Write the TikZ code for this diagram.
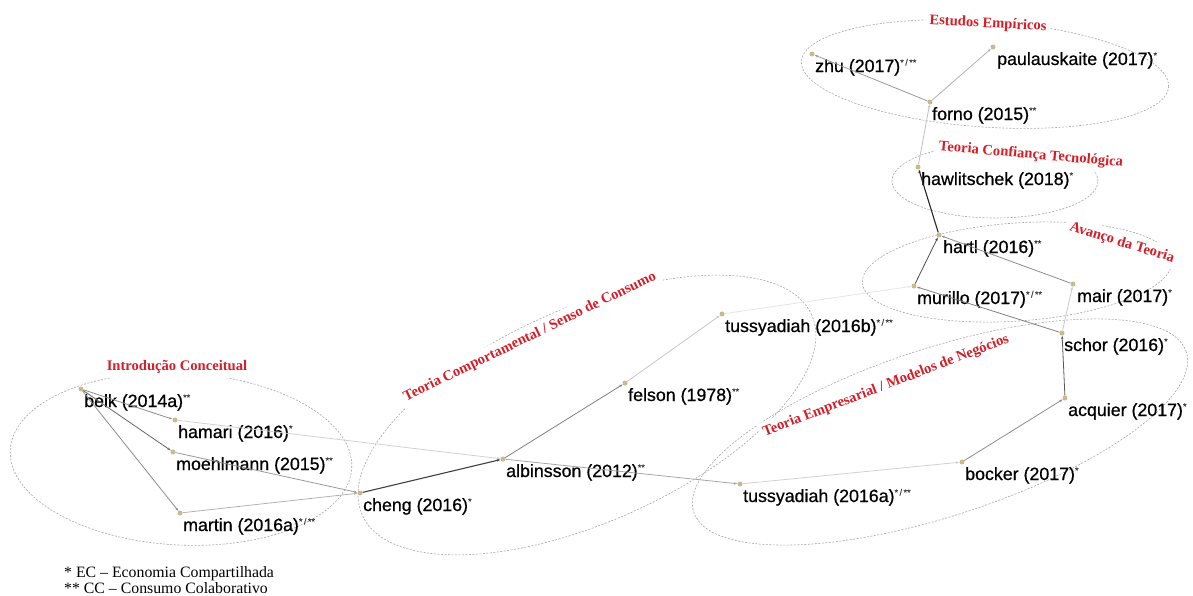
\documentclass[tikz,border=0pt]{standalone}
\usepackage{fontspec}
\setmainfont{Liberation Serif}
\setsansfont{Liberation Sans}
\newfontfamily\autorfont{Liberation Sans}[FakeBold=0.7]
\usetikzlibrary{arrows.meta,positioning}

\definecolor{vermelho}{RGB}{212,30,40}
\definecolor{areia}{RGB}{200,186,140}
\newcommand\marca[1]{\raisebox{6.5pt}{\color{black!75}\fontsize{9}{9}\selectfont#1}}

\begin{document}
\begin{tikzpicture}[x = 1pt, y = -1pt,
	ponto/.style = {circle, fill = areia, inner sep = 0pt, minimum size = 5pt},
	autor/.style = {anchor = base west, inner sep = 0pt, text = black, font = \autorfont\fontsize{17.8}{20}\selectfont},
	tema/.style = {text = vermelho, fill = white, inner sep = 4pt, font = \bfseries\fontsize{14.6}{16}\selectfont},
	grupo/.style = {draw = black!35, dash pattern = on 2pt off 1.5pt, line width = 0.6pt},
	lig/.style = {-{Stealth[length = 3.5pt, width = 2.4pt]}, line width = 0.8pt},
	legenda/.style = {anchor = base west, inner sep = 0pt, font = \fontsize{15.8}{17}\selectfont}]
	\useasboundingbox (0,0) rectangle (1193,595);
	% grupos
	\draw[grupo, rotate around = {-3:(181,459)}] (181,459) ellipse [x radius = 171pt, y radius = 86pt];
	\draw[grupo, rotate around = {24:(587,415)}] (587,415) ellipse [x radius = 246pt, y radius = 107pt];
	\draw[grupo, rotate around = {18:(940,432)}] (940,432) ellipse [x radius = 259pt, y radius = 84pt];
	\draw[grupo, rotate around = {4:(1017,272)}] (1017,272) ellipse [x radius = 155pt, y radius = 49pt];
	\draw[grupo] (995,181) ellipse [x radius = 103pt, y radius = 37pt];
	\draw[grupo, rotate around = {-4:(985,74)}] (985,74) ellipse [x radius = 184pt, y radius = 53pt];
	\node[tema] (intro) at (177,367) {Introdução Conceitual};
	\node[tema, rotate = 26] (comport) at (530,337) {Teoria Comportamental / Senso de Consumo};
	\node[tema, rotate = 21] (empres) at (886,386) {Teoria Empresarial / Modelos de Negócios};
	\node[tema, rotate = -17] (avanco) at (1122,243) {Avanço da Teoria};
	\node[tema, rotate = -5] (confianca) at (1031,155) {Teoria Confiança Tecnológica};
	\node[tema, rotate = -3] (estudos) at (988,24) {Estudos Empíricos};
	% autores
	\node[ponto] (belk) at (81,389) {};
	\node[ponto] (hamari) at (175,420) {};
	\node[ponto] (moehlmann) at (173,452) {};
	\node[ponto] (martin) at (180,513) {};
	\node[ponto] (cheng) at (360,493) {};
	\node[ponto] (albinsson) at (503,459) {};
	\node[ponto] (felson) at (625,383) {};
	\node[ponto] (tussyB) at (722,314) {};
	\node[ponto] (tussyA) at (740,484) {};
	\node[ponto] (bocker) at (962,462) {};
	\node[ponto] (acquier) at (1065,398) {};
	\node[ponto] (schor) at (1062,333) {};
	\node[ponto] (mair) at (1073,284) {};
	\node[ponto] (murillo) at (914,286) {};
	\node[ponto] (hartl) at (939,235) {};
	\node[ponto] (hawlitschek) at (918,167) {};
	\node[ponto] (forno) at (930,102) {};
	\node[ponto] (zhu) at (812,54) {};
	\node[ponto] (paulauskaite) at (993,47) {};
	\node[below right = 18pt and 3pt of belk.center, autor] (belkT) {belk (2014a)\marca{**}};
	\node[below right = 18pt and 3pt of hamari.center, autor] (hamariT) {hamari (2016)\marca{*}};
	\node[below right = 18pt and 3pt of moehlmann.center, autor] (moehlmannT) {moehlmann (2015)\marca{**}};
	\node[below right = 18pt and 3pt of martin.center, autor] (martinT) {martin (2016a)\marca{*\,/\,**}};
	\node[below right = 18pt and 3pt of cheng.center, autor] (chengT) {cheng (2016)\marca{*}};
	\node[below right = 18pt and 3pt of albinsson.center, autor] (albinssonT) {albinsson (2012)\marca{**}};
	\node[below right = 18pt and 3pt of felson.center, autor] (felsonT) {felson (1978)\marca{**}};
	\node[below right = 18pt and 3pt of tussyB.center, autor] (tussyBT) {tussyadiah (2016b)\marca{*\,/\,**}};
	\node[below right = 18pt and 3pt of tussyA.center, autor] (tussyAT) {tussyadiah (2016a)\marca{*\,/\,**}};
	\node[below right = 18pt and 3pt of bocker.center, autor] (bockerT) {bocker (2017)\marca{*}};
	\node[below right = 18pt and 3pt of acquier.center, autor] (acquierT) {acquier (2017)\marca{*}};
	\node[below right = 18pt and 2pt of schor.center, autor] (schorT) {schor (2016)\marca{*}};
	\node[below right = 18pt and 4pt of mair.center, autor] (mairT) {mair (2017)\marca{*}};
	\node[below right = 18pt and 3pt of murillo.center, autor] (murilloT) {murillo (2017)\marca{*\,/\,**}};
	\node[below right = 18pt and 4pt of hartl.center, autor] (hartlT) {hartl (2016)\marca{**}};
	\node[below right = 18pt and 3pt of hawlitschek.center, autor] (hawlitschekT) {hawlitschek (2018)\marca{*}};
	\node[below right = 18pt and 2pt of forno.center, autor] (fornoT) {forno (2015)\marca{**}};
	\node[below right = 18pt and 3pt of zhu.center, autor] (zhuT) {zhu (2017)\marca{*\,/\,**}};
	\node[below right = 18pt and 4pt of paulauskaite.center, autor] (paulauskaiteT) {paulauskaite (2017)\marca{*}};
	% ligacoes
	\draw[lig, draw = black!45] (belk) -- (hamari);
	\draw[lig, draw = black!60] (belk) -- (moehlmann);
	\draw[lig, draw = black!45] (belk) -- (martin);
	\draw[lig, draw = black!18] (hamari) -- (albinsson);
	\draw[lig, draw = black!40] (moehlmann) -- (cheng);
	\draw[lig, draw = black!30] (martin) -- (cheng);
	\draw[lig, draw = black!75, line width = 1.1pt] (cheng) -- (albinsson);
	\draw[lig, draw = black!50] (albinsson) -- (felson);
	\draw[lig, draw = black!22] (felson) -- (tussyB);
	\draw[lig, draw = black!10] (tussyB) -- (murillo);
	\draw[lig, draw = black!35] (albinsson) -- (tussyA);
	\draw[lig, draw = black!18] (tussyA) -- (bocker);
	\draw[lig, draw = black!45] (bocker) -- (acquier);
	\draw[lig, draw = black!65] (acquier) -- (schor);
	\draw[lig, draw = black!50] (schor) -- (murillo);
	\draw[lig, draw = black!22] (schor) -- (mair);
	\draw[lig, draw = black!45] (mair) -- (hartl);
	\draw[lig, draw = black!70] (murillo) -- (hartl);
	\draw[lig, draw = black!85, line width = 1.1pt] (hartl) -- (hawlitschek);
	\draw[lig, draw = black!25] (hawlitschek) -- (forno);
	\draw[lig, draw = black!40] (forno) -- (zhu);
	\draw[lig, draw = black!30] (forno) -- (paulauskaite);
	% legenda
	\node[legenda] (nota1) at (64,577) {* EC -- Economia Compartilhada};
	\node[legenda] (nota2) at (64,593) {** CC -- Consumo Colaborativo};
\end{tikzpicture}
\end{document}
